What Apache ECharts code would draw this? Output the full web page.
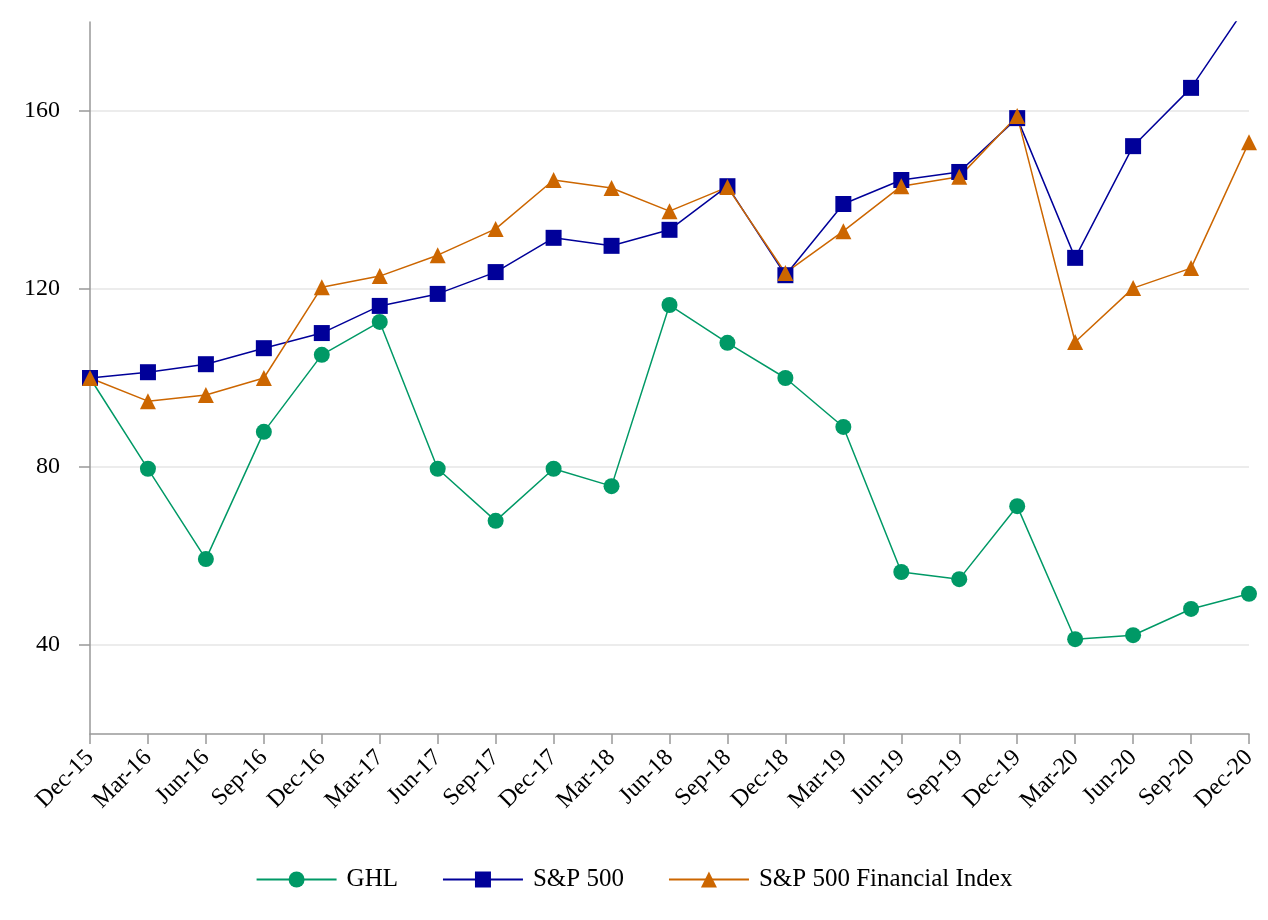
<!DOCTYPE html>
<html><head><meta charset="utf-8">
<script src="https://cdn.jsdelivr.net/npm/echarts@6/dist/echarts.min.js"></script>
<style>html,body{margin:0;padding:0;background:#fff}#c{width:1268px;height:920px}</style>
</head><body><div id="c"></div>
<script>
const categories = ['Dec-15','Mar-16','Jun-16','Sep-16','Dec-16','Mar-17','Jun-17','Sep-17','Dec-17','Mar-18','Jun-18','Sep-18','Dec-18','Mar-19','Jun-19','Sep-19','Dec-19','Mar-20','Jun-20','Sep-20','Dec-20'];
const ghl = [100, 79.6, 59.3, 87.9, 105.2, 112.6, 79.6, 67.9, 79.6, 75.7, 116.4, 107.9, 100, 89, 56.4, 54.8, 71.2, 41.3, 42.2, 48.1, 51.5];
const sp500 = [100, 101.3, 103.1, 106.7, 110.1, 116.2, 118.9, 123.8, 131.5, 129.7, 133.3, 143.1, 123.1, 139.1, 144.5, 146.3, 158.4, 127, 152.1, 165.2, 184.4];
const spFin = [100, 94.8, 96.2, 100, 120.4, 122.9, 127.6, 133.5, 144.5, 142.7, 137.5, 142.9, 123.6, 133, 143.1, 145.2, 158.9, 108.1, 120.2, 124.7, 153];
const seriesNames = ['GHL','S&P 500','S&P 500 Financial Index'];
const yTickLabels = [40, 80, 120, 160];

const font = '"Liberation Serif","Times New Roman",serif';
const chart = echarts.init(document.getElementById('c'));
function mk(name, data, color, symbol, size) {
  return {name, type:'line', data, symbol, symbolSize:size, showAllSymbol:true, clip:true,
    lineStyle:{color, width:1.5}, itemStyle:{color}};
}
chart.setOption({
  animation:false,
  backgroundColor:'#fff',
  grid:{left:90, right:19, top:22, bottom:186, containLabel:false},
  legend:{top:862, left:'center', itemWidth:80, itemHeight:20, itemGap:44,
    textStyle:{fontFamily:font, fontSize:25, color:'#000', padding:[0,0,0,5]},
    data:seriesNames},
  xAxis:{type:'category', data:categories, boundaryGap:false,
    axisLine:{lineStyle:{color:'#999', width:1.5}},
    axisTick:{show:true, length:10, alignWithLabel:true, lineStyle:{color:'#999', width:1.5}},
    axisLabel:{rotate:45, fontFamily:font, fontSize:24, color:'#000', margin:20, interval:0},
    splitLine:{show:false}},
  yAxis:{type:'value', min:20, max:180, interval:20,
    axisLine:{show:true, lineStyle:{color:'#999', width:1.5}},
    axisTick:{show:true, length:11, inside:false, customValues:yTickLabels, lineStyle:{color:'#999', width:1.5}},
    axisLabel:{fontFamily:font, fontSize:24, color:'#000', margin:30, padding:[4,0,0,0], customValues:yTickLabels},
    splitLine:{show:true, lineStyle:{color:'#e6e6e6', width:1.5}}},
  series:[
    mk(seriesNames[0], ghl, '#009966', 'circle', 16),
    mk(seriesNames[1], sp500, '#000099', 'rect', 16),
    mk(seriesNames[2], spFin, '#CC6600', 'triangle', 16)
  ]
});
</script></body></html>
